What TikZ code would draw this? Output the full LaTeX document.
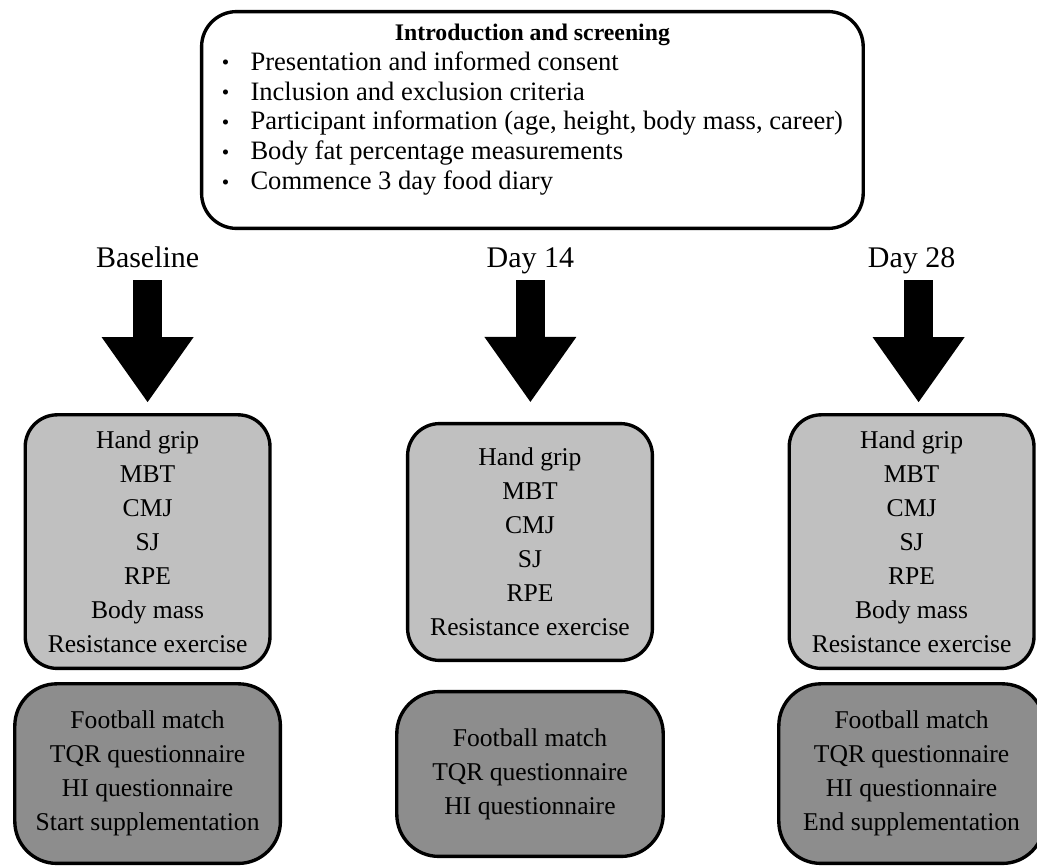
\documentclass[tikz,border=0pt]{standalone}
\usepackage{fontspec}
\setmainfont{Liberation Serif}
\usepackage{graphicx}
\usetikzlibrary{arrows.meta}

\definecolor{testgray}{RGB}{192,192,192}
\definecolor{matchgray}{RGB}{141,141,141}

\newcommand{\dotitem}{\raisebox{0.02em}{\scalebox{0.8}{\textbullet}}\hspace{0.8em}}

\tikzstyle{bigarrow}=[line width=0.725cm, -{Triangle[width=2.3cm, length=1.625cm, line width=0pt]}]
\tikzstyle{introbox}=[rectangle, draw=black, line width=2.4pt, rounded corners=0.875cm, minimum width=16.54cm, minimum height=5.42cm]
\tikzstyle{daylabel}=[anchor=base, inner sep=0pt, text height=0.5cm, text depth=0.15cm, font=\fontsize{21.3}{25}\selectfont]
\tikzstyle{testbox}=[rectangle, draw=black, fill=testgray, line width=2.4pt, rounded corners=0.8cm, minimum width=6.12cm, align=center, font=\fontsize{18.2}{24.2}\selectfont]
\tikzstyle{matchbox}=[rectangle, draw=black, fill=matchgray, line width=2.4pt, rounded corners=1.05cm, minimum width=6.64cm, align=center, font=\fontsize{18.2}{24.2}\selectfont]

\begin{document}
\begin{tikzpicture}
    \useasboundingbox (0,0) rectangle (25.925,-21.675);

    \node (intro) at (13.31, -3.0) [introbox] {};
    \node (introtext) at (13.31, -2.725) [font=\fontsize{18.9}{21.3}\selectfont] {%
        \begin{tabular}{@{}l@{}}
            \multicolumn{1}{@{}c@{}}{\fontsize{16.9}{21.3}\selectfont\bfseries Introduction and screening}\\
            \dotitem Presentation and informed consent\\
            \dotitem Inclusion and exclusion criteria\\
            \dotitem Participant information (age, height, body mass, career)\\
            \dotitem Body fat percentage measurements\\
            \dotitem Commence 3 day food diary
        \end{tabular}};

    \node (baseline) at (3.69, -6.675) [daylabel] {Baseline};
    \node (day14) at (13.26, -6.675) [daylabel] {Day 14};
    \node (day28) at (22.79, -6.675) [daylabel] {Day 28};

    \node (early) at (3.69, -13.54) [testbox, minimum height=6.34cm] {Hand grip\\MBT\\CMJ\\SJ\\RPE\\Body mass\\Resistance exercise};
    \node (mid) at (13.25, -13.55) [testbox, minimum height=5.92cm] {Hand grip\\MBT\\CMJ\\SJ\\RPE\\Resistance exercise};
    \node (late) at (22.79, -13.54) [testbox, minimum height=6.34cm] {Hand grip\\MBT\\CMJ\\SJ\\RPE\\Body mass\\Resistance exercise};

    \node (earlymatch) at (3.69, -19.34) [matchbox, minimum height=4.49cm] {Football match\\TQR questionnaire\\HI questionnaire\\Start supplementation};
    \node (midmatch) at (13.25, -19.35) [matchbox, minimum height=4.12cm, minimum width=6.66cm] {Football match\\TQR questionnaire\\HI questionnaire};
    \node (latematch) at (22.79, -19.34) [matchbox, minimum height=4.49cm] {Football match\\TQR questionnaire\\HI questionnaire\\End supplementation};

    \draw[bigarrow, shorten <=0.175cm, shorten >=0.275cm] (baseline.south) -- (baseline.south |- early.north);
    \draw[bigarrow, shorten <=0.175cm, shorten >=0.5cm] (day14.south) -- (day14.south |- mid.north);
    \draw[bigarrow, shorten <=0.175cm, shorten >=0.275cm] ([xshift=0.175cm]day28.south) -- ([xshift=0.175cm]day28.south |- late.north);
\end{tikzpicture}
\end{document}
